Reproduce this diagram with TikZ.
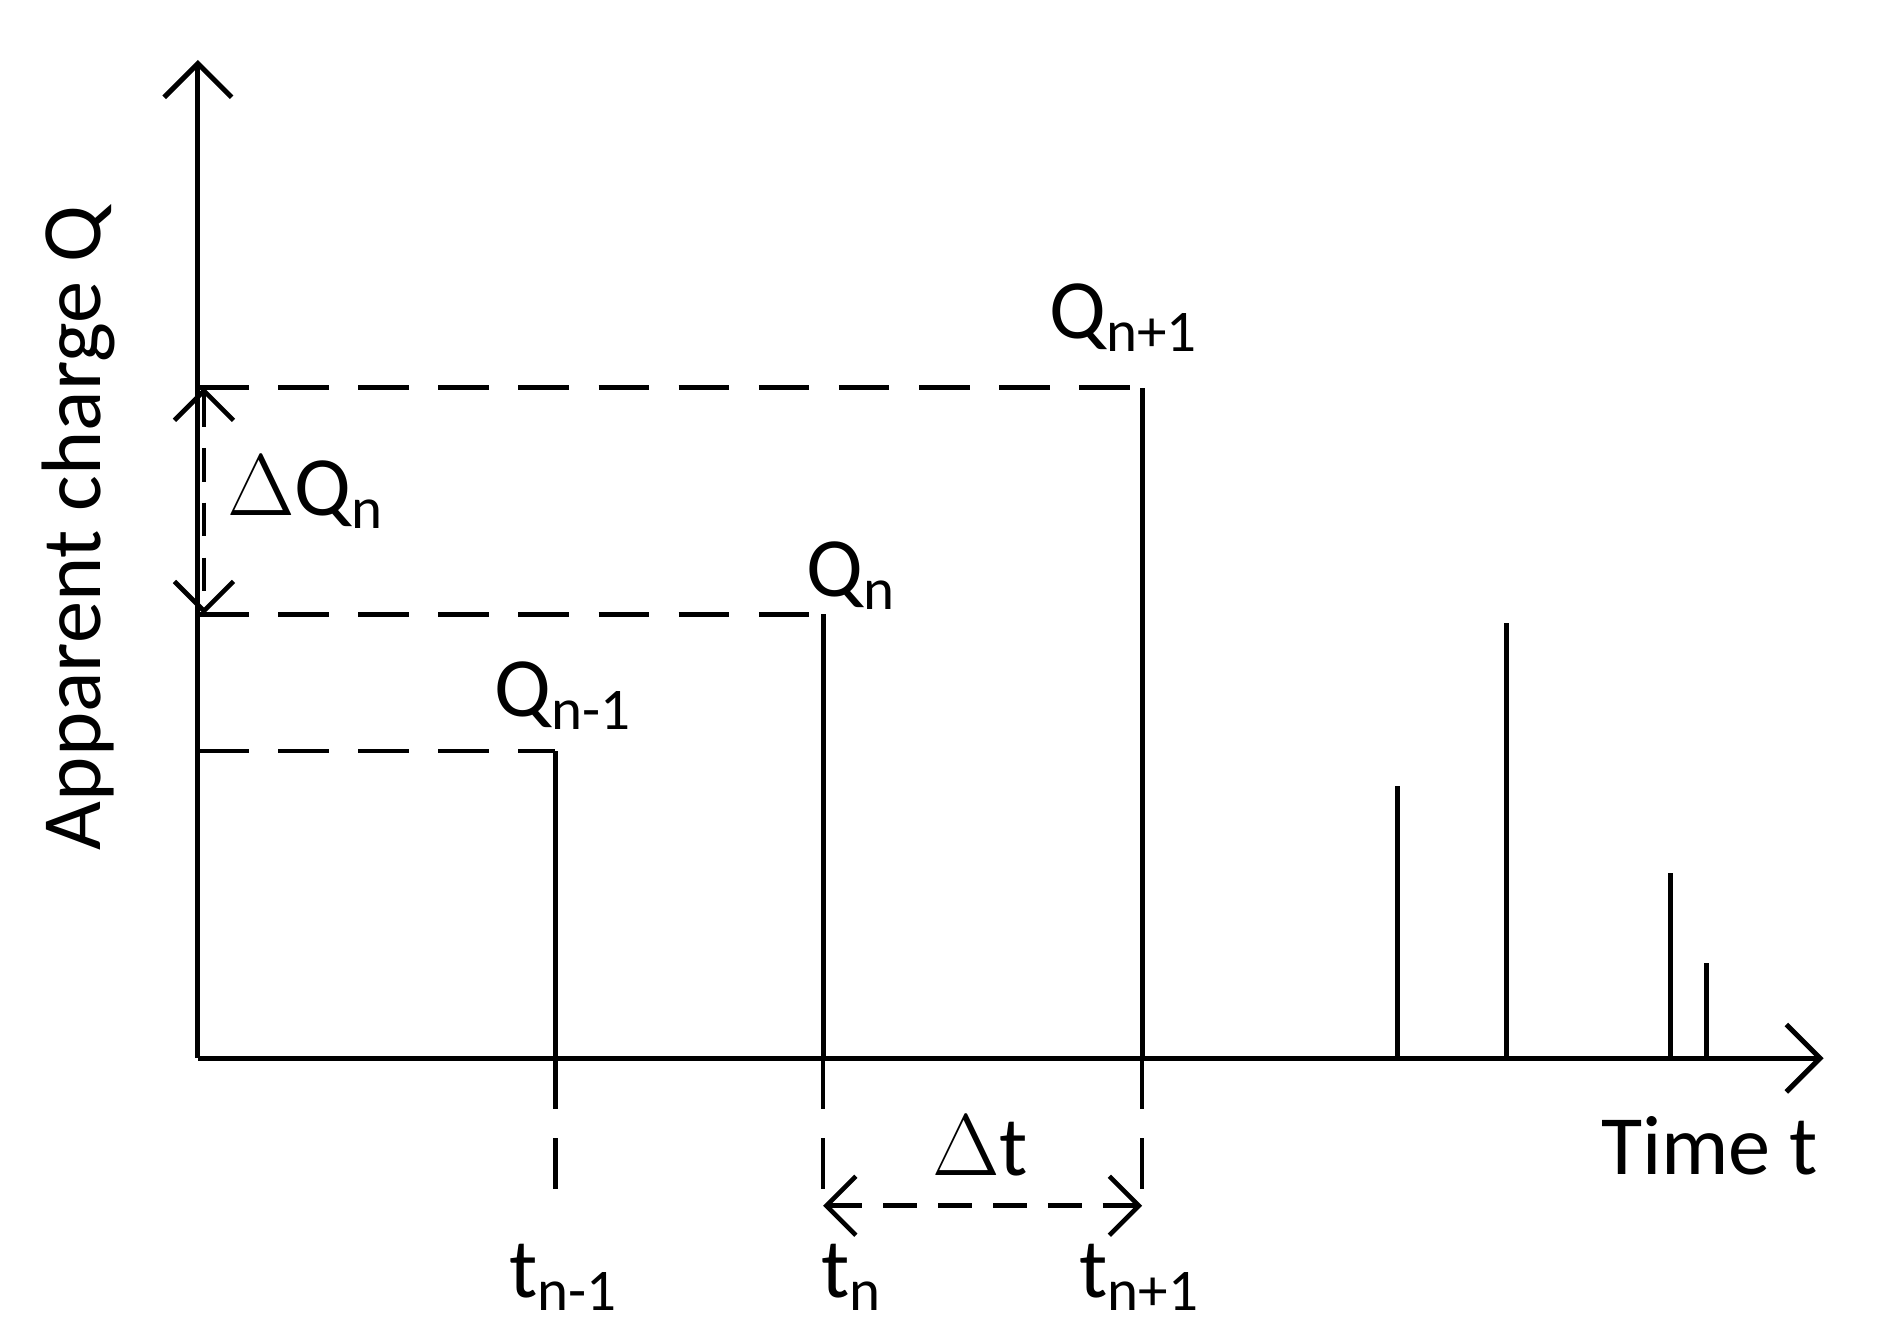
\documentclass[tikz,border=0pt]{standalone}
\usepackage{fontspec}
\setmainfont{Carlito}
\usetikzlibrary{arrows.meta}
\tikzset{
  axis/.style={line width=1.2pt,-{Straight Barb[length=8pt,width=16pt]}},
  spike/.style={line width=1.2pt},
  guide/.style={line width=1.1pt,dash pattern=on 12pt off 7pt},
  dim/.style={line width=1.1pt,dash pattern=on 8pt off 5pt,{Straight Barb[length=7pt,width=14pt]}-{Straight Barb[length=7pt,width=14pt]}},
  lbl/.style={font=\fontsize{20}{24}\selectfont,inner sep=0pt}
}
\begin{document}
\begin{tikzpicture}[line cap=butt, line join=miter]
      \useasboundingbox (0,0) rectangle (15.67,11.2);
      \coordinate (O) at (1.65,2.38);
      \draw [axis] (O) -- (1.65,10.7);
      \draw [axis] (O) -- (15.2,2.38);
      % spikes
      \foreach \x/\y/\n in {4.63/4.94/a,6.86/6.08/b,9.52/7.97/c,11.65/4.65/d,12.56/6.01/e,13.92/3.92/f,14.22/3.17/g} {
        \coordinate (b\n) at (\x,2.38);
        \coordinate (t\n) at (\x,\y);
        \draw [spike] (b\n) -- (t\n);
      }
      % guides
      \foreach \n in {a,b,c} {
        \coordinate (l\n) at (O |- t\n);
        \coordinate (e\n) at (b\n |- 0,1.15);
        \draw [guide] (l\n) -- (t\n);
        \draw [guide] (b\n) -- (e\n);
      }
      \draw [dim] (eb) -- (ec);
      \draw [dim] ([xshift=0.05cm]lc) -- ([xshift=0.05cm]lb);
      % labels
      \node [lbl] (qc) at (9.37,8.55) {Q\textsubscript{n+1}};
      \node [lbl] (qb) at (7.1,6.4) {Q\textsubscript{n}};
      \node [lbl] (qa) at (4.7,5.4) {Q\textsubscript{n-1}};
      \node [lbl] (dq) at (2.55,7.1) {$\Delta$Q\textsubscript{n}};
      \node [lbl] (dt) at (8.17,1.65) {$\Delta$t};
      \node [lbl] (tt) at (14.25,1.65) {Time t};
      \node [lbl] (la) at (4.7,0.55) {t\textsubscript{n-1}};
      \node [lbl] (lb) at (7.1,0.55) {t\textsubscript{n}};
      \node [lbl] (lc) at (9.5,0.55) {t\textsubscript{n+1}};
      \node [lbl,rotate=90] (ylab) at (0.65,6.8) {Apparent charge Q};
\end{tikzpicture}
\end{document}
